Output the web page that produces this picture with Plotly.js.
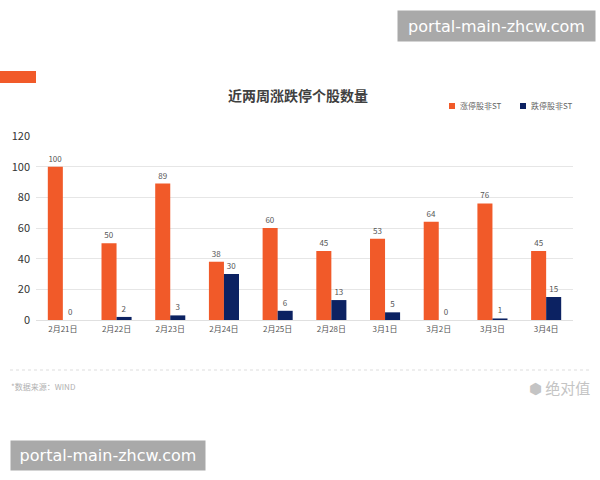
<!DOCTYPE html>
<html>
<head>
<meta charset="utf-8">
<script src="https://cdn.plot.ly/plotly-3.0.1.min.js"></script>
<style>html,body{margin:0;padding:0;background:#fff;}#chart{width:600px;height:480px;}</style>
</head>
<body>
<div id="chart"></div>
<script>
const categories = ["2月21日","2月22日","2月23日","2月24日","2月25日","2月28日","3月1日","3月2日","3月3日","3月4日"];
const limitUp = [100, 50, 89, 38, 60, 45, 53, 64, 76, 45];
const limitDown = [0, 2, 3, 30, 6, 13, 5, 0, 1, 15];
const seriesNames = ["涨停股非ST", "跌停股非ST"];
const yTicks = [0, 20, 40, 60, 80, 100, 120];

const W = 600, H = 480;
const L = 36, R = 573, T = 136, B = 320;
const px = x => (x - L) / (R - L);
const py = y => (B - y) / (B - T);
const cjk = '"Noto Sans CJK SC", "Noto Sans", sans-serif';

const traces = [
  {type:'bar', name:seriesNames[0], x:categories, y:limitUp, marker:{color:'#f15a29'},
   text:limitUp.map(String), textposition:'outside', cliponaxis:false,
   textfont:{size:8, color:'#555', family:cjk}, hoverinfo:'none'},
  {type:'bar', name:seriesNames[1], x:categories, y:limitDown, marker:{color:'#0c2262'},
   text:limitDown.map(String), textposition:'outside', cliponaxis:false,
   textfont:{size:8, color:'#555', family:cjk}, hoverinfo:'none'}
];

const layout = {
  width:W, height:H,
  margin:{l:L, r:W-R, t:T, b:H-B, pad:0},
  paper_bgcolor:'#fff', plot_bgcolor:'#fff',
  barmode:'group', bargap:0.44, bargroupgap:0,
  showlegend:false,
  font:{family:cjk},
  xaxis:{type:'category', showgrid:false, zeroline:false, showline:false, ticks:'',
         ticklabelstandoff:3,
         tickfont:{size:8, color:'#555', family:cjk}, fixedrange:true},
  yaxis:{range:[0,120], tickvals:yTicks, showgrid:true, gridcolor:'#e6e6e6', gridwidth:1,
         zeroline:true, zerolinecolor:'#e0e0e0', showline:false, ticks:'',
         ticklabelstandoff:5,
         tickfont:{size:11, color:'#333', family:cjk}, fixedrange:true},
  shapes:[
    {type:'rect', xref:'paper', yref:'paper', x0:px(0), x1:px(36), y0:py(83), y1:py(71),
     fillcolor:'#f15a29', line:{width:0}},
    {type:'line', xref:'paper', yref:'paper', x0:px(10), x1:px(590), y0:py(370), y1:py(370),
     line:{color:'#dddddd', width:1, dash:'dot'}},
    {type:'rect', xref:'paper', yref:'paper', x0:px(449), x1:px(455), y0:py(109), y1:py(103),
     fillcolor:'#f15a29', line:{width:0}},
    {type:'rect', xref:'paper', yref:'paper', x0:px(520), x1:px(526), y0:py(109), y1:py(103),
     fillcolor:'#0c2262', line:{width:0}}
  ],
  annotations:[
    {text:'近两周涨跌停个股数量', xref:'paper', yref:'paper', x:px(298), y:py(95),
     xanchor:'center', yanchor:'middle', showarrow:false,
     font:{size:14, color:'#404040', family:cjk, weight:'bold'}},
    {text:seriesNames[0], xref:'paper', yref:'paper', x:px(458), y:py(106),
     xanchor:'left', yanchor:'middle', showarrow:false, font:{size:8, color:'#666', family:cjk}},
    {text:seriesNames[1], xref:'paper', yref:'paper', x:px(529), y:py(106),
     xanchor:'left', yanchor:'middle', showarrow:false, font:{size:8, color:'#666', family:cjk}},
    {text:'*数据来源：WIND', xref:'paper', yref:'paper', x:px(9), y:py(386),
     xanchor:'left', yanchor:'middle', showarrow:false, font:{size:8, color:'#b0b0b0', family:cjk}},
    {text:'⬢ 绝对值', xref:'paper', yref:'paper', x:px(592), y:py(387),
     xanchor:'right', yanchor:'middle', showarrow:false, font:{size:15, color:'#c4c4c4', family:cjk}},
    {text:'portal-main-zhcw.com', xref:'paper', yref:'paper', x:px(397), y:py(10),
     xanchor:'left', yanchor:'top', showarrow:false, bgcolor:'#a9a9a9', borderpad:5,
     width:187, height:20, align:'center',
     font:{size:16, color:'#ffffff', family:'"DejaVu Sans", sans-serif'}},
    {text:'portal-main-zhcw.com', xref:'paper', yref:'paper', x:px(10), y:py(440),
     xanchor:'left', yanchor:'top', showarrow:false, bgcolor:'#a9a9a9', borderpad:5,
     width:184, height:19, align:'center',
     font:{size:16, color:'#ffffff', family:'"DejaVu Sans", sans-serif'}}
  ]
};

Plotly.newPlot('chart', traces, layout, {displayModeBar:false, staticPlot:true});
</script>
</body>
</html>
